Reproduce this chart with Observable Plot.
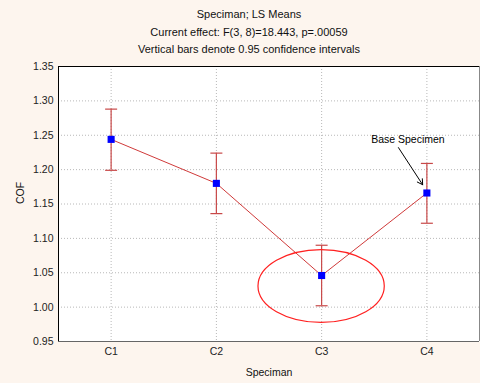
<!DOCTYPE html>
<html>
<head>
<meta charset="utf-8">
<script src="https://cdn.jsdelivr.net/npm/d3@7"></script>
<script src="https://cdn.jsdelivr.net/npm/@observablehq/plot@0.6"></script>
<style>
  html, body { margin: 0; padding: 0; background: #fdf5ee; }
  body { width: 480px; height: 383px; overflow: hidden; font-family: "Liberation Sans", Arial, sans-serif; }
  #title { height: 58px; box-sizing: border-box; padding-top: 6px; padding-left: 18px; text-align: center; font-size: 11px; line-height: 17.5px; color: #111; }
  #chart svg { display: block; }
</style>
</head>
<body>
<div id="title">
  <div>Speciman; LS Means</div>
  <div>Current effect: F(3, 8)=18.443, p=.00059</div>
  <div>Vertical bars denote 0.95 confidence intervals</div>
</div>
<div id="chart"></div>
<script>
const categories = ["C1", "C2", "C3", "C4"];
const means = [1.244, 1.180, 1.046, 1.166];
const lower = [1.199, 1.136, 1.002, 1.122];
const upper = [1.288, 1.224, 1.090, 1.209];
const yTicks = [0.95, 1.00, 1.05, 1.10, 1.15, 1.20, 1.25, 1.30, 1.35];
const annotationText = ["Base Specimen"];
const annotationPos = [{x: 2.82, y: 1.243}];
const arrowPos = [{x1: 2.73, y1: 1.232, x2: 2.96, y2: 1.178}];
const ellipse = {x: 2, y: 1.030, rx: 0.6, ry: 0.053};

const data = categories.map((c, i) => ({i, c, mean: means[i], lo: lower[i], hi: upper[i]}));

const capSymbol = {
  draw(ctx) { ctx.moveTo(-6, 0); ctx.lineTo(6, 0); }
};

function ellipseMark(index, scales) {
  const {x, y} = scales;
  const ns = "http://www.w3.org/2000/svg";
  const g = document.createElementNS(ns, "g");
  const e = document.createElementNS(ns, "ellipse");
  e.setAttribute("cx", x(ellipse.x));
  e.setAttribute("cy", y(ellipse.y));
  e.setAttribute("rx", Math.abs(x(ellipse.x + ellipse.rx) - x(ellipse.x)));
  e.setAttribute("ry", Math.abs(y(ellipse.y + ellipse.ry) - y(ellipse.y)));
  e.setAttribute("fill", "none");
  e.setAttribute("stroke", "#ff2020");
  e.setAttribute("stroke-width", "1.2");
  g.appendChild(e);
  return g;
}

const chart = Plot.plot({
  width: 480,
  height: 325,
  marginLeft: 58,
  marginRight: 1,
  marginTop: 8,
  marginBottom: 42,
  style: {background: "transparent", fontFamily: "Liberation Sans, Arial, sans-serif", fontSize: "10.5px", color: "#222"},
  x: {domain: [-0.5, 3.5]},
  y: {domain: [0.95, 1.35]},
  marks: [
    Plot.frame({fill: "white", stroke: "none"}),
    Plot.gridY(yTicks, {stroke: "#b8b8b8", strokeOpacity: 1, strokeDasharray: "1,2"}),
    Plot.gridX([0, 1, 2, 3], {stroke: "#b8b8b8", strokeOpacity: 1, strokeDasharray: "1,2"}),
    Plot.ruleX([3.5], {stroke: "#888"}),
    Plot.ruleY([0.95], {stroke: "#666"}),
    Plot.ruleX([-0.5], {stroke: "#000"}),
    Plot.ruleY([1.35], {stroke: "#000"}),
    Plot.axisY({ticks: yTicks, tickFormat: d3.format(".2f"), tickSize: 0, tickPadding: 5, label: null, fontSize: 10.5}),
    Plot.axisX({ticks: [0, 1, 2, 3], tickFormat: i => categories[i], tickSize: 0, tickPadding: 6, label: null, fontSize: 10.5}),
    Plot.text(["Speciman"], {frameAnchor: "bottom", dy: 34, fontSize: 10.5, fill: "#111"}),
    Plot.text(["COF"], {frameAnchor: "left", dx: -38, rotate: -90, fontSize: 10.5, fill: "#111"}),
    Plot.line(data, {x: "i", y: "mean", stroke: "#d03a3a", strokeWidth: 1}),
    Plot.ruleX(data, {x: "i", y1: "lo", y2: "hi", stroke: "#c84848", strokeWidth: 1.2}),
    Plot.dot(data, {x: "i", y: "hi", symbol: capSymbol, stroke: "#c84848", strokeWidth: 1.2}),
    Plot.dot(data, {x: "i", y: "lo", symbol: capSymbol, stroke: "#c84848", strokeWidth: 1.2}),
    Plot.dot(data, {x: "i", y: "mean", symbol: "square", r: 4, fill: "#0000ff", stroke: "none"}),
    ellipseMark,
    Plot.arrow(arrowPos, {x1: "x1", y1: "y1", x2: "x2", y2: "y2", stroke: "#000", strokeWidth: 1, headLength: 9}),
    Plot.text(annotationPos, {x: "x", y: "y", text: (d, i) => annotationText[i], fontSize: 10.5, fill: "#000"})
  ]
});
document.getElementById("chart").appendChild(chart);
</script>
</body>
</html>
